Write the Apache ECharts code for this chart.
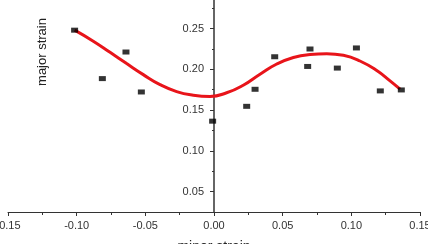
<!DOCTYPE html>
<html>
<head>
<meta charset="utf-8">
<script src="https://cdn.jsdelivr.net/npm/echarts@6/dist/echarts.min.js"></script>
<style>
  html, body { margin: 0; padding: 0; background: #fff; }
  #main { width: 428px; height: 244px; }
</style>
</head>
<body>
<div id="main"></div>
<script>
// measured points (minor strain, major strain)
const pointX = [-0.1015, -0.0813, -0.0641, -0.0529, -0.001, 0.0238, 0.0299, 0.0442, 0.0682, 0.0699, 0.0898, 0.1037, 0.1211, 0.1364];
const pointY = [0.248, 0.1886, 0.2212, 0.1722, 0.1364, 0.1546, 0.1755, 0.2154, 0.2035, 0.2249, 0.2015, 0.2262, 0.1735, 0.1747];

// fitted curve
const fitX = [-0.1015, -0.0879, -0.0757, -0.0636, -0.0515, -0.0393, -0.0272, -0.0151, -0.0029, 0.0092, 0.0213, 0.0335, 0.0457, 0.0578, 0.0699, 0.0821, 0.0942, 0.1063, 0.1185, 0.1282, 0.1355];
const fitY = [0.248, 0.2345, 0.2208, 0.2070, 0.1935, 0.1812, 0.1727, 0.1683, 0.1668, 0.1712, 0.1805, 0.1940, 0.2065, 0.2145, 0.2182, 0.2192, 0.2172, 0.2102, 0.1985, 0.1858, 0.1756];

const yMajor = [0.05, 0.10, 0.15, 0.20, 0.25];
const yMinor = [0.075, 0.125, 0.175, 0.225, 0.275];

const axisColor = '#333';
const labelFont = 'Liberation Sans, Arial, sans-serif';
// grid is 412px wide from x=8, so x=0 sits 206px in from the left edge
const yAxisShift = -206;

const option = {
    animation: false,
    grid: {left: 8, right: 8, top: 0, bottom: 32, outerBoundsMode: 'none', containLabel: false},
    xAxis: {
        type: 'value',
        min: -0.15,
        max: 0.15,
        interval: 0.05,
        name: 'minor strain',
        nameLocation: 'middle',
        nameGap: 28,
        nameTextStyle: {color: '#222', fontSize: 14, fontFamily: labelFont},
        axisLine: {onZero: false, lineStyle: {color: axisColor, width: 1}},
        axisTick: {inside: false, length: 4, lineStyle: {color: axisColor}},
        minorTick: {show: true, splitNumber: 2, length: 3, lineStyle: {color: axisColor}},
        splitLine: {show: false},
        axisLabel: {
            color: '#333', fontSize: 11, fontFamily: labelFont, margin: 8,
            formatter: v => v.toFixed(2)
        }
    },
    yAxis: [
        {
            type: 'value',
            position: 'left',
            offset: yAxisShift,
            min: 0.025,
            max: 0.285,
            axisLine: {show: true, onZero: false, lineStyle: {color: axisColor, width: 1.5}},
            axisTick: {show: true, length: 4, customValues: yMajor, lineStyle: {color: axisColor}},
            splitLine: {show: false},
            axisLabel: {
                color: '#333', fontSize: 11, fontFamily: labelFont, margin: 10,
                customValues: yMajor,
                formatter: v => v.toFixed(2)
            }
        },
        {
            type: 'value',
            position: 'left',
            offset: yAxisShift,
            min: 0.025,
            max: 0.285,
            axisLine: {show: false, onZero: false},
            axisTick: {show: true, length: 2, customValues: yMinor, lineStyle: {color: axisColor}},
            splitLine: {show: false},
            axisLabel: {show: false}
        }
    ],
    graphic: [{
        type: 'text',
        x: 42,
        y: 52,
        rotation: Math.PI / 2,
        style: {
            text: 'major strain',
            fill: '#222',
            font: '13px "Liberation Sans Narrow", "Liberation Sans", Arial, sans-serif',
            align: 'center',
            verticalAlign: 'middle'
        }
    }],
    series: [
        {
            name: 'fit',
            type: 'line',
            smooth: 0.5,
            showSymbol: false,
            data: fitX.map((x, i) => [x, fitY[i]]),
            lineStyle: {color: '#e8141a', width: 3},
            z: 2
        },
        {
            name: 'data',
            type: 'scatter',
            symbol: 'rect',
            symbolSize: [7, 5],
            data: pointX.map((x, i) => [x, pointY[i]]),
            itemStyle: {color: '#000'},
            z: 3
        }
    ]
};

const myChart = echarts.init(document.getElementById('main'));
myChart.setOption(option);
</script>
</body>
</html>
